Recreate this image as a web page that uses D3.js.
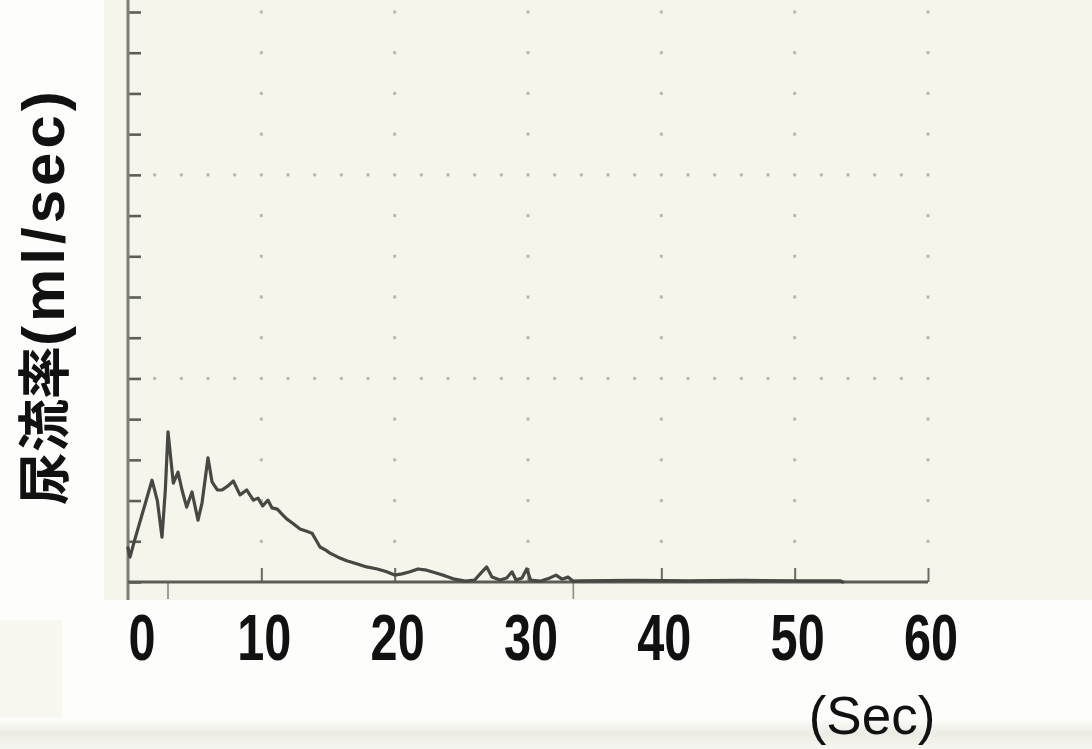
<!DOCTYPE html>
<html><head><meta charset="utf-8">
<script src="https://cdn.jsdelivr.net/npm/d3@7"></script>
<style>html,body{margin:0;padding:0;background:#fdfdfb;overflow:hidden}</style>
</head><body><svg id="c" width="1092" height="749"></svg>
<script>
// ---- data ----
const timeSec = [0,0.15,0.5,1.05,1.8,2.2,2.55,2.8,3.0,3.4,3.75,4.05,4.4,4.8,5.25,5.55,6.0,6.3,6.7,7.05,7.5,7.9,8.4,8.9,9.4,9.75,10.1,10.5,10.8,11.2,11.6,11.9,12.4,12.9,13.35,13.8,14.1,14.4,14.8,15.15,15.75,16.4,17.2,17.9,18.7,19.4,20.0,20.55,21.15,21.75,22.4,23.1,23.8,24.5,25.3,26.0,26.55,26.9,27.3,27.9,28.4,28.8,29.1,29.55,29.9,30.2,30.9,31.65,32.1,32.55,33.0,33.4,33.9,38,42,46,50,53.4,53.6];
const flowRate = [0.84,0.61,1.03,1.65,2.5,2.0,1.1,2.26,3.69,2.43,2.7,2.26,1.84,2.21,1.52,1.94,3.05,2.46,2.26,2.26,2.36,2.48,2.14,2.26,2.01,2.06,1.87,2.01,1.82,1.79,1.65,1.55,1.43,1.30,1.25,1.20,1.03,0.86,0.79,0.71,0.61,0.52,0.44,0.37,0.32,0.25,0.17,0.2,0.25,0.32,0.29,0.22,0.15,0.07,0.02,0.05,0.25,0.37,0.12,0.05,0.1,0.25,0.05,0.1,0.32,0.05,0.02,0.1,0.17,0.07,0.12,0.02,0.03,0.04,0.03,0.04,0.03,0.03,0];
const xTickValues = [0,10,20,30,40,50,60];
const xTickLabels = ["0","10","20","30","40","50","60"];
const xGridValues = [10,20,30,40,50,60];
const yTickValues = [0,1,2,3,4,5,6,7,8,9,10,11,12,13,14];
const yGridValues = [5,10];
const xGridDotStep = 2;
const markerTimes = [3,33.4];
const yAxisTitleCJK = "尿流率";
const yAxisTitleUnit = "(ml/sec)";
const xAxisTitle = "(Sec)";

// ---- layout ----
const svg = d3.select("#c");
const x = d3.scaleLinear().domain([0,60]).range([128,928]);
const y = d3.scaleLinear().domain([0,14]).range([582,12]);

// backgrounds
svg.append("rect").attr("x",0).attr("y",0).attr("width",1092).attr("height",749).attr("fill","#fdfdfb");
svg.append("rect").attr("x",104).attr("y",0).attr("width",988).attr("height",600).attr("fill","#f5f5eb");
svg.append("rect").attr("x",0).attr("y",620).attr("width",62).attr("height",112).attr("fill","#f8f8f0");
const grad = svg.append("defs").append("linearGradient").attr("id","band").attr("x1",0).attr("y1",0).attr("x2",0).attr("y2",1);
grad.append("stop").attr("offset","0").attr("stop-color","#fdfdfb");
grad.append("stop").attr("offset","0.5").attr("stop-color","#ececE4");
grad.append("stop").attr("offset","1").attr("stop-color","#f6f6f0");
svg.append("rect").attr("x",0).attr("y",718).attr("width",1092).attr("height",31).attr("fill","url(#band)");

// dotted grid
const dots = [];
xGridValues.forEach(v => yTickValues.filter(u => u > 0).forEach(u => dots.push([v,u])));
yGridValues.forEach(u => d3.range(xGridDotStep, 60, xGridDotStep).filter(v => v % 10 !== 0).forEach(v => dots.push([v,u])));
svg.append("g").selectAll("rect").data(dots).join("rect")
  .attr("x", d => x(d[0]) - 1.5).attr("y", d => y(d[1]) - 1.5)
  .attr("width",3).attr("height",3).attr("fill","#b8b8aa");

// y axis ticks
const yAx = svg.append("g").attr("transform",`translate(${x(0)},0)`)
  .call(d3.axisRight(y).tickValues(yTickValues).tickSize(13).tickFormat(""));
yAx.select(".domain").remove();
yAx.selectAll("line").attr("stroke","#5e5e58").attr("stroke-width",2.6);

// x ticks pointing up
const xAx = svg.append("g").attr("transform",`translate(0,${y(0)})`)
  .call(d3.axisBottom(x).tickValues(xGridValues).tickSize(-14).tickFormat(""));
xAx.select(".domain").remove();
xAx.selectAll("line").attr("stroke","#6a6a64").attr("stroke-width",2);

// marker ticks below axis
svg.append("g").selectAll("line").data(markerTimes).join("line")
  .attr("x1", d => x(d)).attr("x2", d => x(d)).attr("y1", y(0)).attr("y2", y(0) + 17)
  .attr("stroke","#8a8a84").attr("stroke-width",1.6);

// axis lines
svg.append("line").attr("x1",x(0)).attr("x2",x(0)).attr("y1",0).attr("y2",600)
  .attr("stroke","#7c7c76").attr("stroke-width",3);
svg.append("line").attr("x1",x(0)).attr("x2",x(60)).attr("y1",y(0)).attr("y2",y(0))
  .attr("stroke","#5c5c56").attr("stroke-width",2.8);

// flow curve
const pts = timeSec.map((t,i) => [t, flowRate[i]]);
svg.append("path").datum(pts)
  .attr("d", d3.line().x(d => x(d[0])).y(d => y(d[1])))
  .attr("fill","none").attr("stroke","#474743").attr("stroke-width",3.2)
  .attr("stroke-linejoin","round").attr("stroke-linecap","round");

// tick labels
const lbl = svg.append("g").selectAll("g").data(xTickValues).join("g")
  .attr("transform", (d,i) => `translate(${x(d) + (d === 0 ? 14 : 3)},660) scale(0.76,1)`);
lbl.append("text").text((d,i) => xTickLabels[i])
  .attr("text-anchor","middle").attr("font-family","'Liberation Sans', Arial, sans-serif")
  .attr("font-weight","700").attr("font-size",64).attr("fill","#111");

// x axis title
svg.append("text").attr("x",872).attr("y",734).attr("text-anchor","middle")
  .attr("font-family","'Liberation Sans', Arial, sans-serif").attr("font-size",53)
  .attr("fill","#111").text(xAxisTitle);

// y axis title
const yt = svg.append("text").attr("transform","translate(64,505) rotate(-90)")
  .attr("fill","#111").attr("font-weight","700");
yt.append("tspan").attr("font-family","'Noto Sans CJK JP', sans-serif").attr("font-size",53).text(yAxisTitleCJK);
yt.append("tspan").attr("font-family","'Liberation Sans', Arial, sans-serif").attr("font-size",60)
  .attr("letter-spacing",4).text(yAxisTitleUnit);
</script></body></html>
